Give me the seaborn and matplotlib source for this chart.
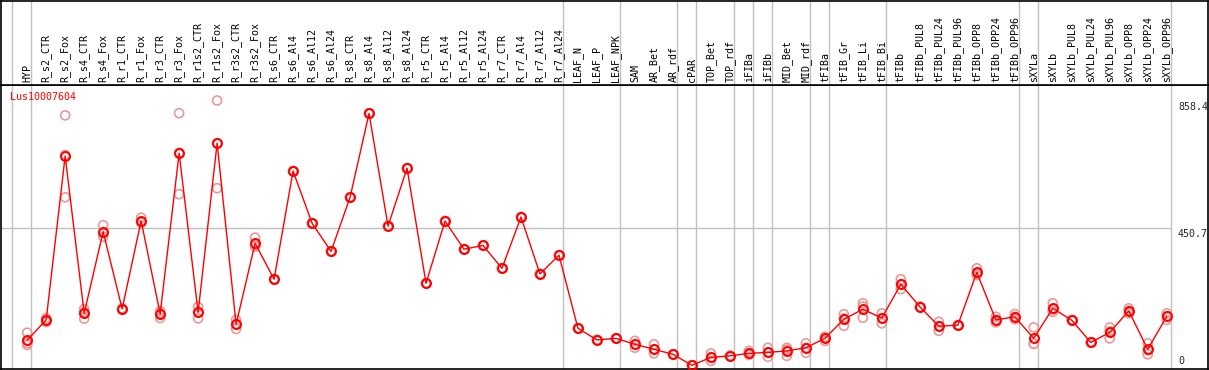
import numpy as np
import pandas as pd
import matplotlib
matplotlib.use("Agg")
import matplotlib.pyplot as plt
import matplotlib.transforms as mtransforms
import seaborn as sns

# ---------------- data ----------------
categories = [
    "HYP", "R_s2_CTR", "R_s2_Fox", "R_s4_CTR", "R_s4_Fox", "R_r1_CTR", "R_r1_Fox",
    "R_r3_CTR", "R_r3_Fox", "R_r1s2_CTR", "R_r1s2_Fox", "R_r3s2_CTR", "R_r3s2_Fox",
    "R_s6_CTR", "R_s6_Al4", "R_s6_Al12", "R_s6_Al24", "R_s8_CTR", "R_s8_Al4",
    "R_s8_Al12", "R_s8_Al24", "R_r5_CTR", "R_r5_Al4", "R_r5_Al12", "R_r5_Al24",
    "R_r7_CTR", "R_r7_Al4", "R_r7_Al12", "R_r7_Al24", "LEAF_N", "LEAF_P", "LEAF_NPK",
    "SAM", "AR_Bet", "AR_rdf", "cPAR", "TOP_Bet", "TOP_rdf", "iFIBa", "iFIBb",
    "MID_Bet", "MID_rdf", "tFIBa", "tFIB_Gr", "tFIB_Li", "tFIB_Bi", "tFIBb",
    "tFIBb_PUL8", "tFIBb_PUL24", "tFIBb_PUL96", "tFIBb_OPP8", "tFIBb_OPP24",
    "tFIBb_OPP96", "sXYLa", "sXYLb", "sXYLb_PUL8", "sXYLb_PUL24", "sXYLb_PUL96",
    "sXYLb_OPP8", "sXYLb_OPP24", "sXYLb_OPP96",
]

mean_vals = [
    92, 157, 681, 178, 439, 192, 474, 176, 690, 181, 722, 143, 402,
    287, 633, 466, 376, 549, 817, 457, 642, 274, 473, 383, 395,
    322, 486, 304, 364, 130, 93, 98,
    79, 63, 47, 12, 37, 42, 50, 53, 58, 68,
    98, 159, 191, 163, 271, 199, 137, 140, 309, 157, 167,
    98, 194, 156, 85, 117, 186, 63, 168,
]

rep1 = [
    116, 163, 811, 192, 460, 194, 484, 185, 818, 199, 858.4, 157, 420,
    287, 633, 466, 376, 549, 817, 457, 642, 274, 473, 383, 395,
    322, 486, 304, 364, 130, 93, 98,
    90, 79, 47, 12, 50, 42, 58, 68, 68, 82,
    103, 175, 210, 178, 287, 199, 151, 140, 322, 167, 176,
    133, 210, 156, 85, 133, 194, 82, 178,
]
rep2 = [
    77, 150, 549, 161, 423, 190, 468, 163, 559, 162, 578, 128, 391,
    287, 633, 466, 376, 549, 817, 457, 642, 274, 473, 383, 395,
    322, 486, 304, 364, 130, 93, 98,
    68, 50, 47, 12, 26, 42, 45, 39, 42, 52,
    90, 138, 164, 146, 255, 199, 122, 140, 300, 149, 159,
    80, 183, 156, 85, 98, 178, 47, 157,
]
rep3 = [
    83, 157, 684, 182, 435, 192, 470, 179, 691, 182, 722, 144, 396,
    287, 633, 466, 376, 549, 817, 457, 642, 274, 473, 383, 395,
    322, 486, 304, 364, 130, 93, 98,
    79, 63, 47, 12, 37, 42, 50, 53, 62, 68,
    100, 162, 200, 163, 271, 199, 137, 140, 305, 157, 167,
    81, 190, 156, 85, 120, 186, 60, 169,
]

# index of last category in each group (separator drawn just after it)
group_ends = [-1, 0, 28, 31, 34, 35, 37, 38, 39, 41, 42, 45, 52, 53, 60]

gene = "Lus10007604"
y_max_label = 858.4
y_mid_label = 450.7

# ---------------- styling ----------------
sns.set_style("white")
plt.rcParams["font.family"] = ["DejaVu Sans Mono", "DejaVu Sans"]

W, H = 1209, 370
fig = plt.figure(figsize=(W / 100, H / 100), dpi=100)

top_px = 85
bot_px = 369
ax = fig.add_axes([0.5 / W, (H - bot_px) / H, 1207.5 / W, (bot_px - top_px) / H])
axl = fig.add_axes([0.5 / W, (H - top_px) / H, 1207.5 / W, (top_px - 0.5) / H])

# x limits (pixel 0 -> left edge, 19 px per category, first at 26.7 px)
x0 = -26.7 / 19.0
x1 = (1208 - 26.7) / 19.0
ymax = 908

df_mean = pd.DataFrame({"cat": categories, "val": mean_vals})
df_rep = pd.DataFrame({
    "cat": categories * 3,
    "val": rep1 + rep2 + rep3,
})

grid_c = "#c0c0c0"
for k in group_ends:
    ax.axvline(k + 0.2, color=grid_c, lw=1, zorder=0)
    axl.axvline(k + 0.2, color=grid_c, lw=1, zorder=0)
ax.hlines(y_mid_label, x0, group_ends[-1] + 0.2, color=grid_c, lw=1, zorder=0)

sns.scatterplot(data=df_rep, x="cat", y="val", ax=ax, marker="o", s=42,
                facecolor="none", edgecolor="#e89a9a", linewidth=1.2,
                legend=False, zorder=2)
sns.lineplot(data=df_mean, x="cat", y="val", ax=ax, sort=False, color="red",
             lw=1, marker="o", markersize=6.4, markerfacecolor="none",
             markeredgecolor="red", markeredgewidth=1.5, zorder=3)

ax.set_xlim(x0, x1)
ax.set_ylim(0, ymax)
ax.set_xticks([])
ax.set_yticks([])
ax.set_xlabel("")
ax.set_ylabel("")
for s in ax.spines.values():
    s.set_color("black")
    s.set_linewidth(1.2)

axl.set_xlim(x0, x1)
axl.set_ylim(0, 1)
axl.set_xticks([])
axl.set_yticks([])
for s in axl.spines.values():
    s.set_color("black")
    s.set_linewidth(1.2)

trans = mtransforms.blended_transform_factory(axl.transData, axl.transAxes)
for i, c in enumerate(categories):
    axl.text(i, 0.03, c, rotation=90, ha="center", va="bottom",
             fontsize=7.2, color="black", transform=trans)

ax.text(0.008, 1 - 12 / 284, gene, color="red", fontsize=7.2,
        ha="left", va="center", transform=ax.transAxes)
xl = (1178 - 26.7) / 19.0
ax.text(xl, y_max_label - 4, f"{y_max_label}", ha="left", va="top", fontsize=7.2)
ax.text(xl, y_mid_label - 4, f"{y_mid_label}", ha="left", va="top", fontsize=7.2)
ax.text(xl, 9, "0", ha="left", va="bottom", fontsize=7.2)

fig.savefig("out.png", dpi=100)
